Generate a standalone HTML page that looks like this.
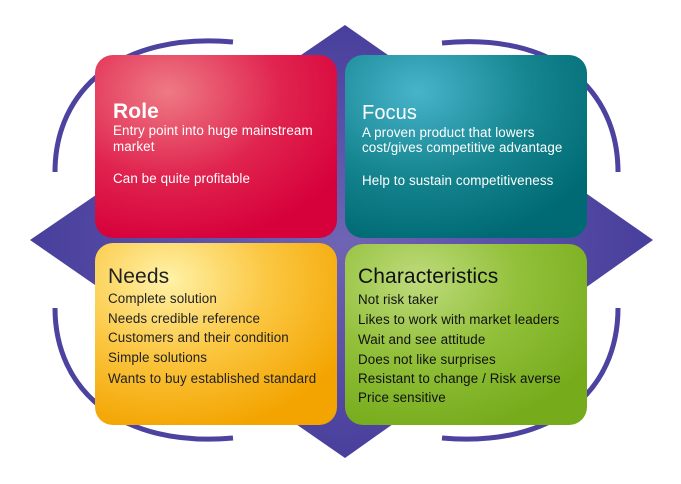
<!DOCTYPE html>
<html><head><meta charset="utf-8"><style>
html,body{margin:0;padding:0;background:#fff;}
body{width:681px;height:484px;overflow:hidden;position:relative;font-family:"Liberation Sans",sans-serif;}
.t{position:absolute;white-space:nowrap;font-size:13.4px;letter-spacing:0.1px;}
</style></head><body>
<svg width="681" height="484" style="position:absolute;left:0;top:0">
<defs>
<radialGradient id="dg" cx="50%" cy="50%" r="55%"><stop offset="0" stop-color="#6f64b4"/><stop offset="1" stop-color="#443b9a"/></radialGradient>
<radialGradient id="rg" cx="30%" cy="20%" r="85%"><stop offset="0" stop-color="#ee7a84"/><stop offset="0.55" stop-color="#e0244f"/><stop offset="1" stop-color="#d6003a"/></radialGradient>
<radialGradient id="tg" cx="30%" cy="20%" r="85%"><stop offset="0" stop-color="#48b4cc"/><stop offset="0.55" stop-color="#15858f"/><stop offset="1" stop-color="#006a74"/></radialGradient>
<radialGradient id="yg" cx="30%" cy="20%" r="85%"><stop offset="0" stop-color="#fff2a8"/><stop offset="0.5" stop-color="#fbc640"/><stop offset="1" stop-color="#f3a400"/></radialGradient>
<radialGradient id="gg" cx="30%" cy="20%" r="85%"><stop offset="0" stop-color="#bedb7c"/><stop offset="0.5" stop-color="#92c03a"/><stop offset="1" stop-color="#76ac1c"/></radialGradient>
</defs>
<polygon points="345,25 653,240 345,458 30,240" fill="url(#dg)"/>
<g fill="none" stroke="#4b439f" stroke-width="5" stroke-linecap="butt">
<path d="M55,172 C55,90 120,32 233,42"/>
<path d="M55,308 C55,390 120,448 233,438"/>
<path d="M618,172 C618,90 555,32 442,43"/>
<path d="M618,308 C618,390 555,448 442,438"/>
</g>
<rect x="95" y="55" width="242" height="183" rx="18" fill="url(#rg)"/>
<rect x="345" y="55" width="242" height="183" rx="18" fill="url(#tg)"/>
<rect x="95" y="243" width="242" height="182" rx="18" fill="url(#yg)"/>
<rect x="345" y="244" width="242" height="181" rx="18" fill="url(#gg)"/>
</svg>
<div class="t" style="left:113px;top:100px;font-size:21px;font-weight:bold;color:#fff">Role</div>
<div class="t" style="left:113px;top:123px;color:#fff">Entry point into huge mainstream</div>
<div class="t" style="left:113px;top:139px;color:#fff">market</div>
<div class="t" style="left:113px;top:171px;color:#fff">Can be quite profitable</div>
<div class="t" style="left:362px;top:102px;font-size:20px;color:#fff">Focus</div>
<div class="t" style="left:362px;top:125px;color:#fff">A proven product that lowers</div>
<div class="t" style="left:362px;top:140px;color:#fff">cost/gives competitive advantage</div>
<div class="t" style="left:362px;top:173px;color:#fff">Help to sustain competitiveness</div>
<div class="t" style="left:108px;top:265px;font-size:21px;color:#222">Needs</div>
<div class="t" style="left:108px;top:291px;color:#222">Complete solution</div>
<div class="t" style="left:108px;top:311px;color:#222">Needs credible reference</div>
<div class="t" style="left:108px;top:330px;color:#222">Customers and their condition</div>
<div class="t" style="left:108px;top:350px;color:#222">Simple solutions</div>
<div class="t" style="left:108px;top:371px;color:#222">Wants to buy established standard</div>
<div class="t" style="left:358px;top:265px;font-size:21px;color:#111">Characteristics</div>
<div class="t" style="left:358px;top:292px;color:#111">Not risk taker</div>
<div class="t" style="left:358px;top:312px;color:#111">Likes to work with market leaders</div>
<div class="t" style="left:358px;top:332px;color:#111">Wait and see attitude</div>
<div class="t" style="left:358px;top:352px;color:#111">Does not like surprises</div>
<div class="t" style="left:358px;top:371px;color:#111">Resistant to change / Risk averse</div>
<div class="t" style="left:358px;top:390px;color:#111">Price sensitive</div>
</body></html>
